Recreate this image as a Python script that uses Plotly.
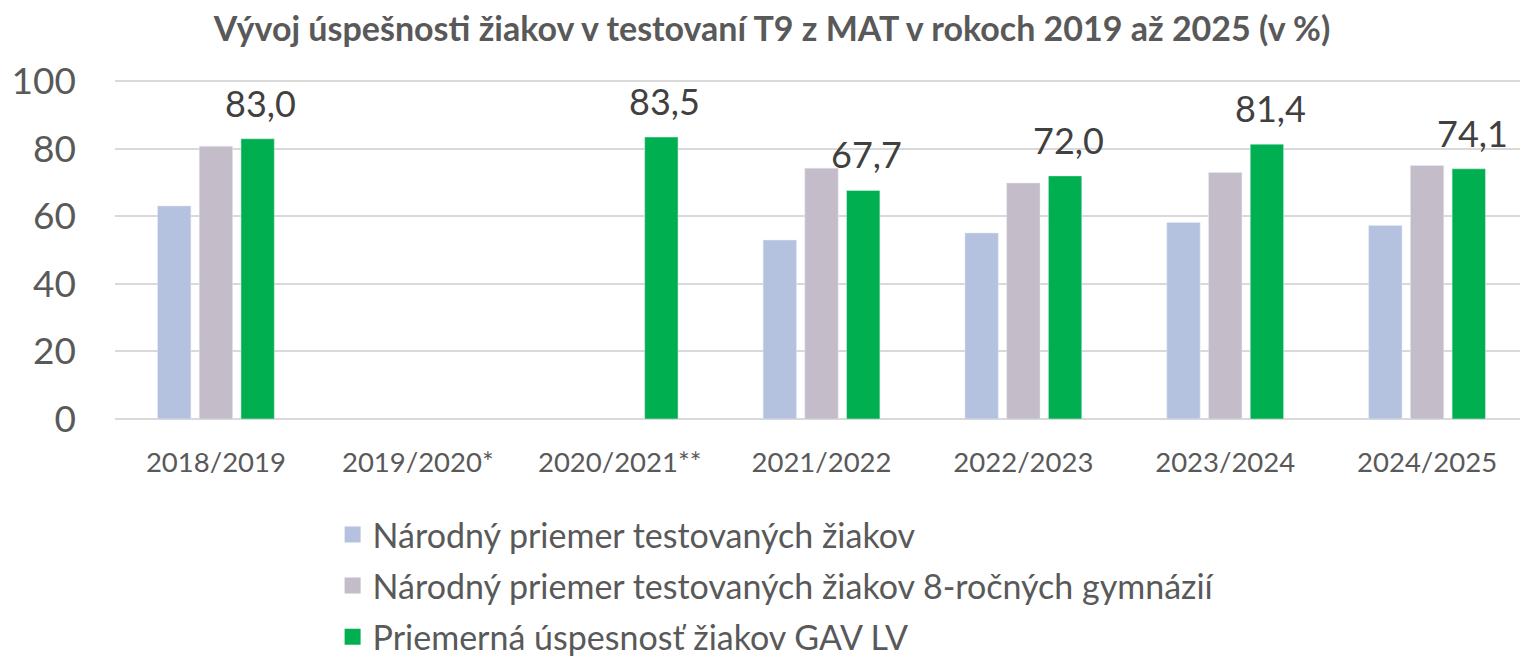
import plotly.graph_objects as go

categories = ["2018/2019", "2019/2020*", "2020/2021**", "2021/2022", "2022/2023", "2023/2024", "2024/2025"]
national = [63.1, None, None, 53.0, 55.1, 58.2, 57.3]
gym8 = [80.8, None, None, 74.3, 69.9, 73.0, 75.1]
gav = [83.0, None, 83.5, 67.7, 72.0, 81.4, 74.1]

names = [
    "Národný priemer testovaných žiakov",
    "Národný priemer testovaných žiakov 8-ročných gymnázií",
    "Priemerná úspesnosť žiakov GAV LV",
]
colors = ["#B4C2E0", "#C4BCC8", "#00B050"]

FONT = "Lato, Open Sans, sans-serif"

fig = go.Figure()
for i, (vals, nm, col) in enumerate(zip([national, gym8, gav], names, colors)):
    fig.add_trace(go.Bar(x=categories, y=vals, name=nm, marker_color=col,
                         showlegend=False))
# legend entries with square symbols
for i, (nm, col) in enumerate(zip(names, colors)):
    fig.add_trace(go.Scatter(x=[None], y=[None], mode="markers", name=nm,
                             marker=dict(symbol="square", size=20, color=col),
                             legendgroup=str(i), showlegend=True))

# data labels for GAV series
for cat, v in zip(categories, gav):
    if v is None:
        continue
    fig.add_annotation(x=cat, y=v, xref="x", yref="y",
                       text=f"{v:.1f}".replace(".", ","),
                       showarrow=False, yanchor="bottom", xanchor="center",
                       xshift=45, yshift=12,
                       font=dict(size=36, color="#404040", family=FONT))

fig.update_layout(
    width=1528, height=657,
    paper_bgcolor="white", plot_bgcolor="white",
    separators=", ",
    barmode="group", bargap=0.38, bargroupgap=0.2,
    margin=dict(l=107, r=8, t=72, b=246, autoexpand=False),
    title=dict(text="<b>Vývoj úspešnosti žiakov v testovaní T9 z MAT v rokoch 2019 až 2025 (v %)</b>",
               x=0.5, xanchor="center", y=0.968, yanchor="middle",
               font=dict(size=34, color="#595959", family=FONT)),
    font=dict(family=FONT, color="#595959"),
    xaxis=dict(tickfont=dict(size=27.5, color="#595959"), showline=False, ticks="",
               ticklabelstandoff=24),
    yaxis=dict(range=[0, 100.4], tickvals=[0, 20, 40, 60, 80, 100],
               tickfont=dict(size=37, color="#595959"),
               gridcolor="#D9D9D9", gridwidth=1.5, zeroline=True,
               zerolinecolor="#D9D9D9", zerolinewidth=1.5, ticks="", ticklabelstandoff=38),
    legend=dict(orientation="v", x=0.154, xanchor="left", y=-0.256, yanchor="top",
                font=dict(size=34, color="#595959"), tracegroupgap=4,
                itemsizing="trace"),
    showlegend=True,
)

fig.write_html("out.html")
